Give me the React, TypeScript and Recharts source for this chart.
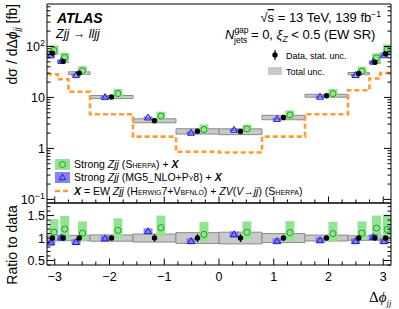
import React from 'react';
import { ComposedChart, XAxis, YAxis, Line, Scatter, ErrorBar, ReferenceArea } from 'recharts';

const PI = Math.PI;
// Bin edges in delta-phi_jj
const binEdges = [-PI, -15 * PI / 16, -7 * PI / 8, -3 * PI / 4, -PI / 2, -PI / 4, 0, PI / 4, PI / 2, 3 * PI / 4, 7 * PI / 8, 15 * PI / 16, PI];
// Measured cross-section [fb]
const dataXsec = [74, 51, 30, 10.2, 3.5, 2.17, 2.14, 4.05, 10.8, 29.4, 49, 72];
const dataStatRel = [0.03, 0.03, 0.03, 0.04, 0.08, 0.09, 0.09, 0.06, 0.04, 0.03, 0.03, 0.03];
const dataTotRel = [0.06, 0.06, 0.06, 0.07, 0.09, 0.12, 0.13, 0.1, 0.065, 0.05, 0.05, 0.05];
// Strong Zjj (Sherpa) + X, ratio to data
const sherpaRatio = [1.13, 1.2, 1.11, 1.17, 1.23, 1.08, 1.13, 1.12, 1.1, 1.11, 1.22, 1.19];
const sherpaLo = [0.95, 0.95, 0.93, 0.99, 1.04, 0.93, 0.97, 0.93, 0.93, 0.96, 1.01, 0.99];
const sherpaHi = [1.42, 1.49, 1.37, 1.44, 1.5, 1.36, 1.37, 1.38, 1.36, 1.37, 1.5, 1.52];
// Strong Zjj (MG5_NLO+Py8) + X, ratio to data
const mgRatio = [0.9, 1.01, 0.91, 0.99, 1.15, 0.93, 1.08, 0.93, 0.95, 0.93, 1.02, 0.93];
const mgUnc = [0.065, 0.065, 0.065, 0.065, 0.065, 0.065, 0.065, 0.065, 0.065, 0.065, 0.065, 0.065];
// X = EW Zjj + ZV [fb]
const ewX = [28.5, 22.7, 12.9, 4.67, 1.7, 0.86, 0.83, 1.7, 4.67, 13.8, 23.5, 30];

const xMajorTicks = [-3, -2, -1, 0, 1, 2, 3];
const yMainMajor = [0.1, 1, 10, 100];
const yRatioMajor = [0.5, 1, 1.5];

const X_DOMAIN: [number, number] = [-PI, PI];
const Y_MAIN_DOMAIN: [number, number] = [0.085, 680];
const Y_RATIO_DOMAIN: [number, number] = [0.4, 1.78];

const FONT = '"Liberation Sans", Arial, Helvetica, sans-serif';
const GREEN_FILL = '#92e492';
const GREEN_LINE = '#1fa31f';
const BLUE_FILL = '#6f6ff5';
const BLUE_LINE = '#1c1cd6';
const ORANGE = '#ff9a33';
const GRAY_FILL = '#c9c9c9';
const GRAY_LINE = '#8a8a8a';

// minor ticks (axis decoration)
const xTicksAll: number[] = [];
for (let i = -12; i <= 12; i++) xTicksAll.push(i * 0.25);
const yMainTicksAll: number[] = [];
[0.1, 1, 10, 100].forEach((d) => {
  for (let k = 1; k <= 9; k++) {
    const v = +(k * d).toPrecision(3);
    if (v >= Y_MAIN_DOMAIN[0] && v <= Y_MAIN_DOMAIN[1]) yMainTicksAll.push(v);
  }
});
const yRatioTicksAll: number[] = [];
for (let i = 4; i <= 17; i++) yRatioTicksAll.push(+(i * 0.1).toFixed(1));

const centers = binEdges.slice(0, -1).map((e, i) => (e + binEdges[i + 1]) / 2);
const widths = binEdges.slice(0, -1).map((e, i) => binEdges[i + 1] - e);
const OFFS = 0.15;
const BAND_HW = 0.082;

const isIn = (arr: number[], v: number) => arr.some((m) => Math.abs(m / v - 1) < 1e-6 || Math.abs(m - v) < 1e-9);

const fmtX = (v: number) => (v < 0 ? '\u2212' + Math.abs(v) : String(v));

const xTick = (side: 'bottom' | 'top', showLabel: boolean, majLen: number, minLen: number) => (props: any) => {
  const { x, y, payload } = props;
  const v = payload.value;
  const maj = isIn(xMajorTicks, v);
  const len = maj ? majLen : minLen;
  const dir = side === 'bottom' ? -1 : 1;
  return (
    <g>
      <line x1={x} x2={x} y1={y} y2={y + dir * len} stroke="#000" strokeWidth={1} />
      {showLabel && maj && (
        <text x={x} y={y + 16} textAnchor="middle" fontSize={12.5} fontFamily={FONT} fill="#000">
          {fmtX(v)}
        </text>
      )}
    </g>
  );
};

const yTick = (side: 'left' | 'right', major: number[], label: ((v: number, x: number, y: number) => any) | null, majLen: number, minLen: number) => (props: any) => {
  const { x, y, payload } = props;
  const v = payload.value;
  const maj = isIn(major, v);
  const len = maj ? majLen : minLen;
  const dir = side === 'left' ? 1 : -1;
  return (
    <g>
      <line x1={x} x2={x + dir * len} y1={y} y2={y} stroke="#000" strokeWidth={1} />
      {label && maj && label(v, x - 2, y)}
    </g>
  );
};

const mainYLabel = (v: number, x: number, y: number) => {
  const common = { x, y: y + 4.5, textAnchor: 'end' as const, fontSize: 12.5, fontFamily: FONT, fill: '#000' };
  if (v === 0.1)
    return (
      <text {...common}>
        10<tspan dy={-5} fontSize={9}>{'\u22121'}</tspan>
      </text>
    );
  if (v === 100)
    return (
      <text {...common}>
        10<tspan dy={-5} fontSize={9}>2</tspan>
      </text>
    );
  return <text {...common}>{String(v)}</text>;
};

const ratioYLabel = (v: number, x: number, y: number) => (
  <text x={x} y={y + 4.5} textAnchor="end" fontSize={12.5} fontFamily={FONT} fill="#000">
    {String(v)}
  </text>
);

const circleShape = (p: any) => <circle cx={p.cx} cy={p.cy} r={3.1} fill="none" stroke={GREEN_LINE} strokeWidth={1} />;
const triShape = (p: any) => (
  <polygon
    points={`${p.cx},${p.cy - 3.6} ${p.cx - 3.4},${p.cy + 2.4} ${p.cx + 3.4},${p.cy + 2.4}`}
    fill="none"
    stroke={BLUE_LINE}
    strokeWidth={1}
  />
);
const dotShape = (p: any) => <circle cx={p.cx} cy={p.cy} r={2.7} fill="#000" />;

// main-panel series
const mainData = centers.map((c, i) => ({ x: c, y: dataXsec[i], err: [dataXsec[i] * dataStatRel[i], dataXsec[i] * dataStatRel[i]] }));
const mainSherpa = centers.map((c, i) => ({ x: c + OFFS * widths[i], y: dataXsec[i] * sherpaRatio[i] }));
const mainMg = centers.map((c, i) => ({ x: c - OFFS * widths[i], y: dataXsec[i] * mgRatio[i] }));
const ewStep = binEdges.map((e, i) => ({ x: e, y: ewX[Math.min(i, ewX.length - 1)] }));

// ratio-panel series
const ratioData = centers.map((c, i) => ({ x: c, y: 1, err: [dataStatRel[i], dataStatRel[i]] }));
const ratioSherpa = centers.map((c, i) => ({ x: c + OFFS * widths[i], y: sherpaRatio[i] }));
const ratioMg = centers.map((c, i) => ({ x: c - OFFS * widths[i], y: mgRatio[i] }));

const W = 399;
const H = 309;
const PLOT_LEFT = 47;
const PLOT_RIGHT = 391;
const MAIN_TOP = 4;
const MAIN_BOTTOM = 203;
const RATIO_BOTTOM = 265;

function axes(yDomain: [number, number], log: boolean, yTicks: number[], yMajor: number[], yLabel: any, showXLabels: boolean) {
  return [
    <XAxis
      key="xb"
      type="number"
      dataKey="x"
      domain={X_DOMAIN}
      allowDataOverflow
      ticks={xTicksAll}
      interval={0}
      tickSize={0}
      tickMargin={0}
      tickLine={false}
      axisLine={{ stroke: '#000' }}
      height={1}
      tick={xTick('bottom', showXLabels, 6.5, 3.5)}
    />,
    <XAxis
      key="xt"
      xAxisId="t"
      orientation="top"
      type="number"
      domain={X_DOMAIN}
      allowDataOverflow
      ticks={xTicksAll}
      interval={0}
      tickSize={0}
      tickMargin={0}
      tickLine={false}
      axisLine={{ stroke: '#000' }}
      height={1}
      tick={xTick('top', false, 6.5, 3.5)}
    />,
    <YAxis
      key="yl"
      type="number"
      dataKey="y"
      scale={log ? 'log' : 'linear'}
      domain={yDomain}
      allowDataOverflow
      ticks={yTicks}
      interval={0}
      tickSize={0}
      tickMargin={0}
      tickLine={false}
      axisLine={{ stroke: '#000' }}
      width={PLOT_LEFT}
      tick={yTick('left', yMajor, yLabel, 7, 3.5)}
    />,
    <YAxis
      key="yr"
      yAxisId="r"
      orientation="right"
      type="number"
      scale={log ? 'log' : 'linear'}
      domain={yDomain}
      allowDataOverflow
      ticks={yTicks}
      interval={0}
      tickSize={0}
      tickMargin={0}
      tickLine={false}
      axisLine={{ stroke: '#000' }}
      width={1}
      tick={yTick('right', yMajor, null, 7, 3.5)}
    />,
  ];
}

function MainChart() {
  return (
    <ComposedChart
      width={W}
      height={H}
      margin={{ top: MAIN_TOP - 1, right: W - PLOT_RIGHT - 1, bottom: H - MAIN_BOTTOM - 1, left: 0 }}
    >
      {axes(Y_MAIN_DOMAIN, true, yMainTicksAll, yMainMajor, mainYLabel, false)}
      {centers.map((c, i) => (
        <ReferenceArea
          key={'g' + i}
          x1={binEdges[i]}
          x2={binEdges[i + 1]}
          y1={dataXsec[i] * (1 - dataTotRel[i])}
          y2={dataXsec[i] * (1 + dataTotRel[i])}
          fill={GRAY_FILL}
          fillOpacity={1}
          stroke={GRAY_LINE}
          strokeWidth={1}
          ifOverflow="hidden"
        />
      ))}
      {centers.map((c, i) => (
        <ReferenceArea
          key={'s' + i}
          x1={c + OFFS * widths[i] - BAND_HW}
          x2={c + OFFS * widths[i] + BAND_HW}
          y1={dataXsec[i] * sherpaLo[i]}
          y2={dataXsec[i] * sherpaHi[i]}
          fill={GREEN_FILL}
          fillOpacity={1}
          ifOverflow="hidden"
        />
      ))}
      {centers.map((c, i) => (
        <ReferenceArea
          key={'m' + i}
          x1={c - OFFS * widths[i] - BAND_HW}
          x2={c - OFFS * widths[i] + BAND_HW}
          y1={dataXsec[i] * (mgRatio[i] - mgUnc[i])}
          y2={dataXsec[i] * (mgRatio[i] + mgUnc[i])}
          fill={BLUE_FILL}
          fillOpacity={0.85}
          ifOverflow="hidden"
        />
      ))}
      <Line
        data={ewStep}
        dataKey="y"
        type="stepAfter"
        stroke={ORANGE}
        strokeWidth={2.6}
        strokeDasharray="5 3"
        dot={false}
        activeDot={false}
        isAnimationActive={false}
      />
      <Scatter data={mainSherpa} dataKey="y" shape={circleShape} isAnimationActive={false} />
      <Scatter data={mainMg} dataKey="y" shape={triShape} isAnimationActive={false} />
      <Scatter data={mainData} dataKey="y" shape={dotShape} isAnimationActive={false}>
        <ErrorBar dataKey="err" direction="y" width={0} stroke="#000" strokeWidth={1.2} isAnimationActive={false} />
      </Scatter>
    </ComposedChart>
  );
}

function RatioChart() {
  return (
    <ComposedChart
      width={W}
      height={H}
      margin={{ top: MAIN_BOTTOM - 1, right: W - PLOT_RIGHT - 1, bottom: H - RATIO_BOTTOM - 1, left: 0 }}
    >
      {axes(Y_RATIO_DOMAIN, false, yRatioTicksAll, yRatioMajor, ratioYLabel, true)}
      {centers.map((c, i) => (
        <ReferenceArea
          key={'g' + i}
          x1={binEdges[i]}
          x2={binEdges[i + 1]}
          y1={1 - dataTotRel[i]}
          y2={1 + dataTotRel[i]}
          fill={GRAY_FILL}
          fillOpacity={1}
          stroke={GRAY_LINE}
          strokeWidth={1}
          ifOverflow="hidden"
        />
      ))}
      {centers.map((c, i) => (
        <ReferenceArea
          key={'s' + i}
          x1={c + OFFS * widths[i] - BAND_HW}
          x2={c + OFFS * widths[i] + BAND_HW}
          y1={sherpaLo[i]}
          y2={sherpaHi[i]}
          fill={GREEN_FILL}
          fillOpacity={1}
          ifOverflow="hidden"
        />
      ))}
      {centers.map((c, i) => (
        <ReferenceArea
          key={'m' + i}
          x1={c - OFFS * widths[i] - BAND_HW}
          x2={c - OFFS * widths[i] + BAND_HW}
          y1={mgRatio[i] - mgUnc[i]}
          y2={mgRatio[i] + mgUnc[i]}
          fill={BLUE_FILL}
          fillOpacity={0.85}
          ifOverflow="hidden"
        />
      ))}
      <Scatter data={ratioSherpa} dataKey="y" shape={circleShape} isAnimationActive={false} />
      <Scatter data={ratioMg} dataKey="y" shape={triShape} isAnimationActive={false} />
      <Scatter data={ratioData} dataKey="y" shape={dotShape} isAnimationActive={false}>
        <ErrorBar dataKey="err" direction="y" width={0} stroke="#000" strokeWidth={1.2} isAnimationActive={false} />
      </Scatter>
    </ComposedChart>
  );
}

function Overlay() {
  const t = { fontFamily: FONT, fill: '#000' };
  const sc = { fontVariant: 'small-caps' as const };
  return (
    <svg width={W} height={H} style={{ position: 'absolute', left: 0, top: 0, pointerEvents: 'none' }}>
      {/* y-axis titles */}
      <text transform="translate(17,4) rotate(-90)" textAnchor="end" fontSize={14} {...t}>
        d{'\u03c3'} / d{'\u0394'}
        <tspan fontStyle="italic">{'\u03d5'}</tspan>
        <tspan fontSize={9} dy={3} fontStyle="italic">jj</tspan>
        <tspan dy={-3}> [fb]</tspan>
      </text>
      <text transform="translate(17,245) rotate(-90)" textAnchor="middle" fontSize={14} {...t}>
        Ratio to data
      </text>
      {/* x-axis title */}
      <text x={369} y={302} fontSize={15} fontFamily='"Liberation Serif", "DejaVu Serif", serif' fill="#000">
        {'\u0394'}
        <tspan fontStyle="italic">{'\u03d5'}</tspan>
        <tspan fontSize={9} dy={4} fontStyle="italic">jj</tspan>
      </text>
      {/* ATLAS labels */}
      <text x={57} y={23} fontSize={14} fontWeight="bold" fontStyle="italic" {...t}>
        ATLAS
      </text>
      <text x={56} y={38} fontSize={12.5} {...t}>
        <tspan fontStyle="italic">Zjj</tspan> {'\u2192'} <tspan fontStyle="italic">lljj</tspan>
      </text>
      <text x={381} y={22} textAnchor="end" fontSize={13} {...t}>
        {'\u221a'}
        <tspan textDecoration="overline">s</tspan> = 13 TeV, 139 fb
        <tspan fontSize={8.5} dy={-5}>{'\u22121'}</tspan>
      </text>
      <text x={225} y={39} fontSize={13} {...t}>
        <tspan fontStyle="italic">N</tspan>
        <tspan fontSize={8.5} dy={-6}>gap</tspan>
        <tspan fontSize={8.5} dx={-14.5} dy={10}>jets</tspan>
        <tspan dy={-4}> = 0, </tspan>
        <tspan fontStyle="italic">{'\u03be'}</tspan>
        <tspan fontSize={8.5} dy={3} fontStyle="italic">Z</tspan>
        <tspan dy={-3}> &lt; 0.5 (EW SR)</tspan>
      </text>
      {/* top-right legend */}
      <line x1={275} x2={275} y1={50} y2={60} stroke="#000" strokeWidth={1.2} />
      <circle cx={275} cy={55} r={2.7} fill="#000" />
      <text x={286} y={58.5} fontSize={9} {...t}>
        Data, stat. unc.
      </text>
      <rect x={268} y={67} width={14} height={8} fill={GRAY_FILL} />
      <text x={286} y={74.5} fontSize={9} {...t}>
        Total unc.
      </text>
      {/* bottom-left legend */}
      <rect x={55} y={159} width={15} height={11} fill={GREEN_FILL} />
      <circle cx={62.5} cy={164.5} r={3} fill="none" stroke={GREEN_LINE} strokeWidth={1} />
      <text x={74} y={168.3} fontSize={10.5} {...t}>
        Strong <tspan fontStyle="italic">Zjj</tspan> (<tspan style={sc}>Sherpa</tspan>) +{' '}
        <tspan fontWeight="bold" fontStyle="italic">X</tspan>
      </text>
      <rect x={55} y={172} width={15} height={11} fill={BLUE_FILL} fillOpacity={0.85} />
      <polygon points="62.5,174 59.3,179.8 65.7,179.8" fill="none" stroke={BLUE_LINE} strokeWidth={1} />
      <text x={74} y={181.3} fontSize={10.5} {...t}>
        Strong <tspan fontStyle="italic">Zjj</tspan> (MG5_NLO+<tspan style={sc}>Py8</tspan>) +{' '}
        <tspan fontWeight="bold" fontStyle="italic">X</tspan>
      </text>
      <line x1={55} x2={69} y1={191} y2={191} stroke={ORANGE} strokeWidth={2.6} strokeDasharray="5 3" />
      <text x={74} y={195} fontSize={10.5} {...t}>
        <tspan fontWeight="bold" fontStyle="italic">X</tspan> = EW <tspan fontStyle="italic">Zjj</tspan> (
        <tspan style={sc}>Herwig</tspan>7+<tspan style={sc}>Vbfnlo</tspan>) + <tspan fontStyle="italic">ZV</tspan>(
        <tspan fontStyle="italic">V</tspan>{'\u2192'}<tspan fontStyle="italic">jj</tspan>) (<tspan style={sc}>Sherpa</tspan>)
      </text>
    </svg>
  );
}

export default function App() {
  return (
    <div style={{ position: 'absolute', left: 0, top: 0, width: W, height: H, background: '#fff' }}>
      <div style={{ position: 'absolute', left: 0, top: 0 }}>
        <MainChart />
      </div>
      <div style={{ position: 'absolute', left: 0, top: 0 }}>
        <RatioChart />
      </div>
      <Overlay />
    </div>
  );
}
